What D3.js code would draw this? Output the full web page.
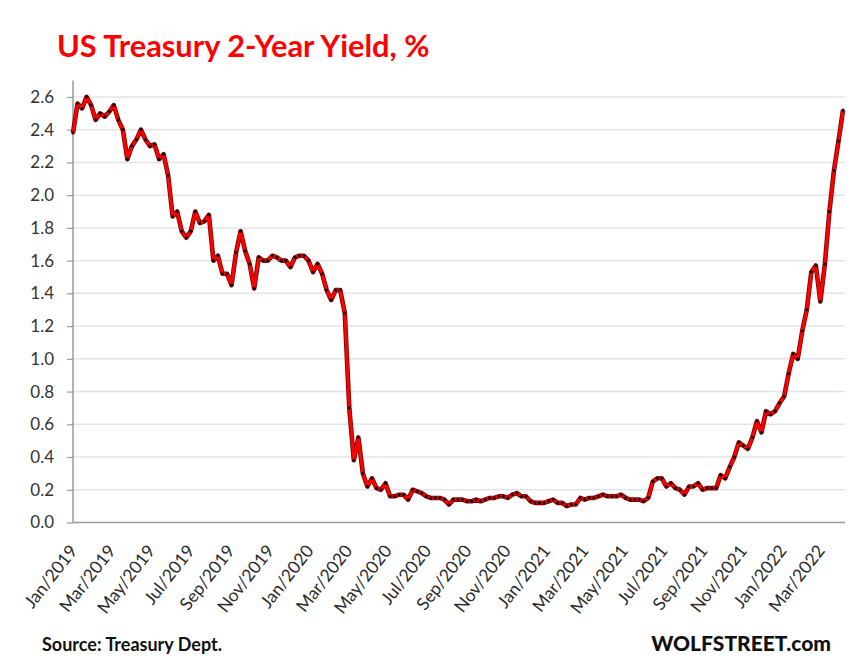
<!DOCTYPE html>
<html>
<head>
<meta charset="utf-8">
<style>
  body { margin: 0; background: #fff; }
  text { font-family: Lato, "Open Sans", sans-serif; }
</style>
</head>
<body>
<svg id="chart" width="866" height="659"></svg>
<script src="https://d3js.org/d3.v7.min.js"></script>
<script>
// weekly readings of the 2-year yield, first one on Jan 2 2019
var startDate = new Date(2019, 0, 2);
var weeklyYields = [
  2.38, 2.56, 2.53, 2.60, 2.55, 2.46, 2.50, 2.48, 2.51, 2.55,
  2.46, 2.40, 2.22, 2.30, 2.34, 2.40, 2.34, 2.30, 2.31, 2.22,
  2.25, 2.12, 1.87, 1.90, 1.78, 1.74, 1.78, 1.90, 1.83, 1.84,
  1.88, 1.60, 1.63, 1.52, 1.52, 1.45, 1.65, 1.78, 1.66, 1.58,
  1.43, 1.62, 1.60, 1.60, 1.63, 1.62, 1.60, 1.60, 1.56, 1.62,
  1.63, 1.63, 1.60, 1.53, 1.58, 1.52, 1.42, 1.36, 1.42, 1.42,
  1.28, 0.70, 0.38, 0.52, 0.30, 0.22, 0.27, 0.21, 0.20, 0.24,
  0.16, 0.16, 0.17, 0.17, 0.14, 0.20, 0.19, 0.18, 0.16, 0.15,
  0.15, 0.15, 0.14, 0.11, 0.14, 0.14, 0.14, 0.13, 0.13, 0.14,
  0.13, 0.14, 0.15, 0.15, 0.16, 0.16, 0.15, 0.17, 0.18, 0.16,
  0.16, 0.13, 0.12, 0.12, 0.12, 0.13, 0.14, 0.12, 0.12, 0.10,
  0.11, 0.11, 0.15, 0.14, 0.15, 0.15, 0.16, 0.17, 0.16, 0.16,
  0.16, 0.17, 0.15, 0.14, 0.14, 0.14, 0.13, 0.15, 0.25, 0.27,
  0.27, 0.22, 0.24, 0.21, 0.20, 0.17, 0.22, 0.22, 0.24, 0.20,
  0.21, 0.21, 0.21, 0.29, 0.27, 0.34, 0.40, 0.49, 0.47, 0.45,
  0.52, 0.62, 0.55, 0.68, 0.66, 0.68, 0.73, 0.77, 0.91, 1.03,
  1.00, 1.17, 1.30, 1.53, 1.57, 1.35, 1.58, 1.90, 2.15, 2.33,
  2.52
];
var yTicks = [0, 0.2, 0.4, 0.6, 0.8, 1.0, 1.2, 1.4, 1.6, 1.8, 2.0, 2.2, 2.4, 2.6];
var xTickLabels = [
  "Jan/2019", "Mar/2019", "May/2019", "Jul/2019", "Sep/2019", "Nov/2019",
  "Jan/2020", "Mar/2020", "May/2020", "Jul/2020", "Sep/2020", "Nov/2020",
  "Jan/2021", "Mar/2021", "May/2021", "Jul/2021", "Sep/2021", "Nov/2021",
  "Jan/2022", "Mar/2022"
];

var data = weeklyYields.map(function(v, i) {
  return { date: d3.timeDay.offset(startDate, 7 * i), value: v };
});

var svg = d3.select("#chart");
var plotLeft = 73, plotRight = 843, plotTop = 80.6, plotBottom = 522.5;

var x = d3.scaleTime()
  .domain([startDate, data[data.length - 1].date])
  .range([plotLeft, plotRight]);
var y = d3.scaleLinear()
  .domain([0, 2.7])
  .range([plotBottom, plotTop]);

// title
svg.append("text")
  .attr("x", 57).attr("y", 57)
  .style("font-size", "30.8px").style("font-weight", "bold")
  .attr("fill", "#ff0000")
  .text("US Treasury 2-Year Yield, %");

// gridlines
svg.append("g")
  .selectAll("line")
  .data(yTicks.filter(function(d) { return d > 0; }))
  .enter().append("line")
  .attr("x1", plotLeft).attr("x2", plotRight + 2)
  .attr("y1", function(d) { return y(d); })
  .attr("y2", function(d) { return y(d); })
  .attr("stroke", "#e2e4ea")
  .attr("stroke-width", 1.5);

// y axis
var yAxis = svg.append("g")
  .attr("transform", "translate(" + plotLeft + ",0)")
  .call(d3.axisLeft(y).tickValues(yTicks).tickFormat(d3.format(".1f")).tickSize(6).tickPadding(13));
yAxis.select(".domain").attr("stroke", "#9a9a9a").attr("stroke-width", 1.5).attr("d", "M0," + plotTop + "V" + plotBottom);
yAxis.selectAll(".tick line").attr("stroke", "#9a9a9a").attr("stroke-width", 1.2);
yAxis.selectAll(".tick text")
  .attr("fill", "#333").style("font-size", "17px").style("font-family", "Lato, sans-serif");

// x axis
var tickDates = xTickLabels.map(d3.timeParse("%b/%Y"));
var xAxis = svg.append("g")
  .attr("transform", "translate(0," + plotBottom + ")")
  .call(d3.axisBottom(x).tickValues(tickDates).tickSize(0).tickFormat(""));
xAxis.select(".domain").attr("stroke", "#9a9a9a").attr("stroke-width", 1.5).attr("d", "M" + plotLeft + ",0H" + (plotRight + 2));

svg.append("g")
  .selectAll("text")
  .data(tickDates)
  .enter().append("text")
  .attr("transform", function(d) { return "translate(" + (x(d) + 6) + ",551) rotate(-52)"; })
  .attr("text-anchor", "end")
  .attr("fill", "#2b2b2b")
  .style("font-size", "17.5px")
  .text(d3.timeFormat("%b/%Y"));

// yield line with point markers
var line = d3.line()
  .x(function(d) { return x(d.date); })
  .y(function(d) { return y(d.value); });

svg.append("path")
  .datum(data)
  .attr("fill", "none")
  .attr("stroke", "#7a0000")
  .attr("stroke-width", 4.6)
  .attr("stroke-linejoin", "round")
  .attr("d", line);

svg.append("path")
  .datum(data)
  .attr("fill", "none")
  .attr("stroke", "#ff0000")
  .attr("stroke-width", 3)
  .attr("stroke-linejoin", "round")
  .attr("d", line);

svg.append("g")
  .selectAll("circle")
  .data(data)
  .enter().append("circle")
  .attr("cx", function(d) { return x(d.date); })
  .attr("cy", function(d) { return y(d.value); })
  .attr("r", 1.6)
  .attr("fill", "#1a0000");

// footer
svg.append("text")
  .attr("x", 42).attr("y", 651)
  .style("font-size", "18px").style("font-weight", "bold")
  .attr("fill", "#111")
  .text("Source: Treasury Dept.");

svg.append("text")
  .attr("x", 831).attr("y", 651)
  .attr("text-anchor", "end")
  .style("font-size", "21px").style("font-weight", "900")
  .attr("fill", "#111")
  .text("WOLFSTREET.com");
</script>
</body>
</html>
